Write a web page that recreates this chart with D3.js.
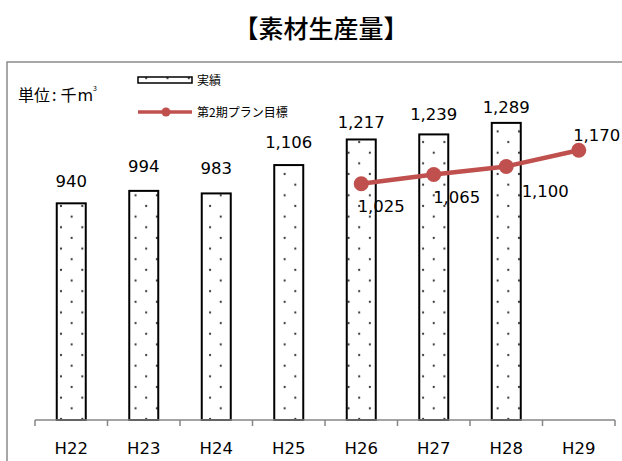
<!DOCTYPE html>
<html><head><meta charset="utf-8">
<script src="https://cdn.jsdelivr.net/npm/d3@7/dist/d3.min.js"></script>
<style>
html,body{margin:0;padding:0;background:#fff;}
svg{display:block;}
</style></head>
<body>
<svg id="chart" width="622" height="461"></svg>
<script>
const categories = ["H22","H23","H24","H25","H26","H27","H28","H29"];
const actualValues = [940, 994, 983, 1106, 1217, 1239, 1289, null];
const planCategories = ["H26","H27","H28","H29"];
const planValues = [1025, 1065, 1100, 1170];
const barLabelGap = [16, 19, 19, 17, 11, 14, 10, null];
const planLabelOffsets = [[20, 28], [23, 28], [39, 31], [18, -9]];
const seriesNames = ["実績", "第2期プラン目標"];
const titleText = "【素材生産量】";
const unitParts = ["単位", ":", "千", "m"];

const svg = d3.select("#chart");
const fmt = d3.format(",");
const numFont = "'DejaVu Sans', sans-serif";
const cjkFont = "'Noto Sans CJK JP', sans-serif";
const red = "#C0504D";

// pattern
const defs = svg.append("defs");
const pat = defs.append("pattern").attr("id","dots").attr("patternUnits","userSpaceOnUse")
  .attr("width", 21.3).attr("height", 21.3).attr("x", 61).attr("y", 206);
pat.append("rect").attr("width",21.3).attr("height",21.3).attr("fill","#fff");
[[0,0],[21.3,0],[0,21.3],[21.3,21.3],[10.65,10.65]].forEach(p=>{
  pat.append("circle").attr("cx",p[0]).attr("cy",p[1]).attr("r",1.1).attr("fill","#333");
});

// title
svg.append("text").attr("x", 321).attr("y", 38).attr("text-anchor","middle")
  .attr("font-family", cjkFont).attr("font-size", 25).attr("font-weight", 500)
  .attr("fill","#000").text(titleText);

// frame
svg.append("path").attr("d","M7,461 V62 H622").attr("fill","none")
  .attr("stroke","#8a8a8a").attr("stroke-width",1.5);

// scales
const x = d3.scaleBand().domain(categories).range([35, 615]).paddingInner(0.6).paddingOuter(0.3);
const y = d3.scaleLinear().domain([0, 1400]).range([420, 97.3]);
const cx = d => x(d) + x.bandwidth()/2;

// bars
const barData = categories.map((c,i)=>({c, v: actualValues[i], gap: barLabelGap[i]})).filter(d=>d.v!=null);
svg.append("g").selectAll("rect").data(barData).join("rect")
  .attr("x", d=>x(d.c)).attr("width", x.bandwidth())
  .attr("y", d=>y(d.v)).attr("height", d=>y(0)-y(d.v))
  .attr("fill","url(#dots)").attr("stroke","#000").attr("stroke-width",2);

svg.append("g").selectAll("text").data(barData).join("text")
  .attr("x", d=>cx(d.c)).attr("y", d=>y(d.v)-d.gap).attr("text-anchor","middle")
  .attr("font-family", numFont).attr("font-size", 16.5).attr("fill","#000")
  .text(d=>fmt(d.v));

// axis
const axisG = svg.append("g").attr("transform", `translate(0,${y(0)})`);
axisG.call(d3.axisBottom(x).tickSize(0).tickPadding(0));
axisG.select(".domain").remove();
axisG.selectAll(".tick text").attr("font-family", numFont).attr("font-size", 16.5)
  .attr("fill","#000").attr("dy", 0).attr("y", 34);
axisG.append("line").attr("x1", x.range()[0]).attr("x2", x.range()[1])
  .attr("stroke","#868686").attr("stroke-width",1.5);
const bounds = categories.map(c => cx(c) - x.step()/2).concat([cx(categories[categories.length-1]) + x.step()/2]);
axisG.selectAll("line.tk").data(bounds).join("line").attr("class","tk")
  .attr("x1", d=>d).attr("x2", d=>d).attr("y1",0).attr("y2",6)
  .attr("stroke","#868686").attr("stroke-width",1.5);

// plan line
const planData = planCategories.map((c,i)=>({c, v: planValues[i], off: planLabelOffsets[i]}));
svg.append("path").datum(planData)
  .attr("d", d3.line().x(d=>cx(d.c)).y(d=>y(d.v)))
  .attr("fill","none").attr("stroke", red).attr("stroke-width",4.5);
svg.append("g").selectAll("circle").data(planData).join("circle")
  .attr("cx", d=>cx(d.c)).attr("cy", d=>y(d.v)).attr("r", 7.5).attr("fill", red);
svg.append("g").selectAll("text").data(planData).join("text")
  .attr("x", d=>cx(d.c)+d.off[0]).attr("y", d=>y(d.v)+d.off[1]).attr("text-anchor","middle")
  .attr("font-family", numFont).attr("font-size", 16.5).attr("fill","#000")
  .text(d=>fmt(d.v));

// unit label
const ut = svg.append("text").attr("x", 18).attr("y", 100.5)
  .attr("font-family", cjkFont).attr("font-size", 16).attr("fill","#000");
ut.append("tspan").text(unitParts[0]);
ut.append("tspan").attr("dx", 2).text(unitParts[1]);
ut.append("tspan").attr("dx", 4).text(unitParts[2]);
ut.append("tspan").attr("dx", 1).attr("font-family", numFont).text(unitParts[3]);
ut.append("tspan").attr("font-size", 7).attr("dy", -10).text("3");

// legend
const lg = svg.append("g");
lg.append("rect").attr("x",138).attr("y",77).attr("width",54).attr("height",6)
  .attr("fill","url(#dots)").attr("stroke","#000").attr("stroke-width",1.5);
lg.append("text").attr("x",197).attr("y",84.5).attr("font-family", cjkFont)
  .attr("font-size",12).attr("fill","#000").text(seriesNames[0]);
lg.append("line").attr("x1",138).attr("x2",192).attr("y1",112).attr("y2",112)
  .attr("stroke", red).attr("stroke-width",3.5);
lg.append("circle").attr("cx",166).attr("cy",112).attr("r",4.5).attr("fill",red);
lg.append("text").attr("x",197).attr("y",116.5).attr("font-family", cjkFont)
  .attr("font-size",12).attr("fill","#000").text(seriesNames[1]);
</script>
</body></html>
